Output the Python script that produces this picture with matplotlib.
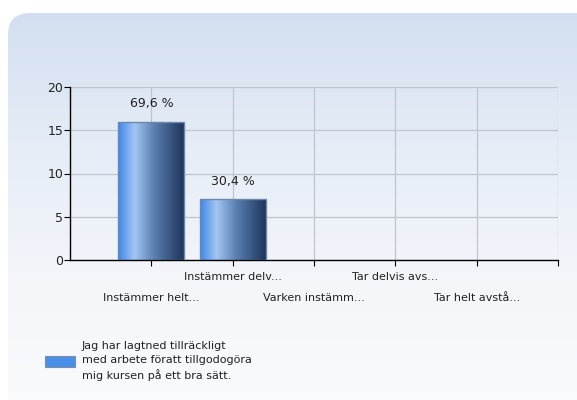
import numpy as np
import matplotlib
matplotlib.use("Agg")
import matplotlib.pyplot as plt
from matplotlib.patches import FancyBboxPatch, Rectangle
from matplotlib.colors import LinearSegmentedColormap

categories = ["Instämmer helt...", "Instämmer delv...", "Varken instämm...",
              "Tar delvis avs...", "Tar helt avstå..."]
values = [16, 7, 0, 0, 0]
pct_labels = ["69,6 %", "30,4 %", None, None, None]
legend_label = "Jag har lagtned tillräckligt\nmed arbete föratt tillgodogöra\nmig kursen på ett bra sätt."
yticks = [0, 5, 10, 15, 20]

plt.rcParams['font.family'] = ['DejaVu Sans']
W, H = 577, 400
fig = plt.figure(figsize=(W/100, H/100), dpi=100)
fig.patch.set_facecolor("white")

# background panel
bg = fig.add_axes([0, 0, 1, 1])
bg.set_xlim(0, W); bg.set_ylim(H, 0); bg.axis("off")
grad = np.linspace(0, 1, 256).reshape(-1, 1)
panel_cmap = LinearSegmentedColormap.from_list("p", ["#d3dff0", "#e6edf7", "#f4f6fa", "#fafbfc"])
im = bg.imshow(grad, cmap=panel_cmap, extent=[8, W + 20, H + 20, 13], aspect="auto", zorder=0)
panel = FancyBboxPatch((8, 13), W + 20, H + 20, boxstyle="round,pad=0,rounding_size=22",
                       facecolor="none", edgecolor="none", transform=bg.transData)
bg.add_patch(panel)
im.set_clip_path(panel)

ax = fig.add_axes([70/W, 1-260/H, (558-70)/W, (260-87)/H])
ax.patch.set_alpha(0)
x = np.arange(1, len(categories)+1)
ax.set_xlim(0, 6)
ax.set_ylim(0, 20)
ax.set_yticks(yticks)
ax.set_xticks(np.arange(1, 7))
ax.set_xticklabels([])
ax.grid(True, color="#bfc4cd", linewidth=0.9)
ax.set_axisbelow(True)
for s in ["top", "right"]:
    ax.spines[s].set_visible(False)
for s in ["left", "bottom"]:
    ax.spines[s].set_color("black")
    ax.spines[s].set_linewidth(1.0)
ax.tick_params(axis="both", direction="out", length=4, color="black", labelsize=9, labelcolor="#222222")
ax.tick_params(axis="y", pad=1)

bar_cmap = LinearSegmentedColormap.from_list("b", [(0, "#3d86e8"), (0.25, "#a3c6f3"), (0.55, "#5a7fb0"), (1, "#1c355c")])
hgrad = np.linspace(0, 1, 256).reshape(1, -1)
bw = 0.81
for xi, v, lab in zip(x, values, pct_labels):
    if v <= 0:
        continue
    r = Rectangle((xi - bw/2, 0), bw, v, facecolor="none", edgecolor="#6d87a8", linewidth=1.0, zorder=3)
    ax.add_patch(r)
    bim = ax.imshow(hgrad, cmap=bar_cmap, extent=[xi - bw/2, xi + bw/2, 0, v], aspect="auto", zorder=2)
    bim.set_clip_path(r)
    ax.text(xi, v + 1.3, lab, ha="center", va="bottom", fontsize=9, color="#222222")
ax.set_xlim(0, 6); ax.set_ylim(0, 20)

for i, (xi, c) in enumerate(zip(x, categories)):
    yy = 277 if i % 2 == 1 else 298
    bg.text(70 + xi * (558-70)/6, yy, c, ha="center", va="center", fontsize=8, color="#222222")

# legend
bg.add_patch(Rectangle((45, 356), 30, 11, facecolor="#4a8fe8", edgecolor="#7a8ea8", linewidth=0.8))
bg.text(82, 361, legend_label, ha="left", va="center", fontsize=8, color="#222222", linespacing=1.45)

fig.savefig("out.png", dpi=100)
